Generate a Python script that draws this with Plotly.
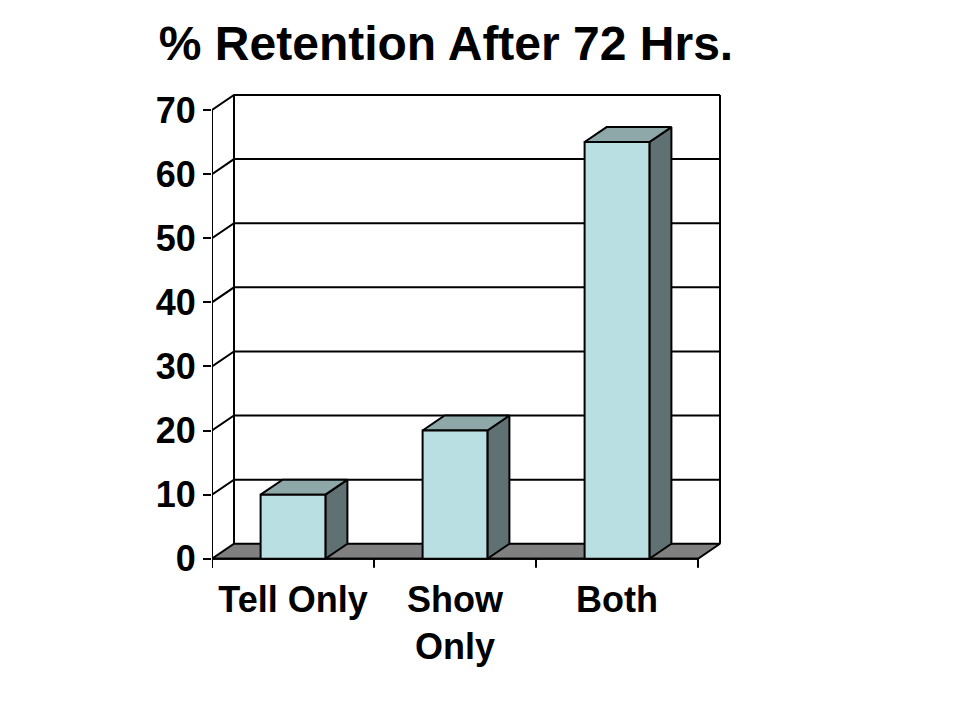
import plotly.graph_objects as go

# ---- data ----
categories = ["Tell Only", "Show<br>Only", "Both"]
values = [10, 20, 65]
y_ticks = [0, 10, 20, 30, 40, 50, 60, 70]
title_text = "% Retention After 72 Hrs."

# ---- style / geometry ----
FONT = "Liberation Sans, Arial, sans-serif"
PAGE_OFF = 8  # default body margin of the html page
PX_PER_CAT = 162.0
PX_PER_VAL = 449.0 / 70.0
DEPTH_X = 22.0 / PX_PER_CAT
DEPTH_Y = 15.0 / PX_PER_VAL
BAR_W = 0.40
TICK_DOWN = 9.0 / PX_PER_VAL
FRONT = "#BADFE2"
TOP = "#8EA8A9"
SIDE = "#5F7172"
FLOOR = "#808080"
LW = 2

W, H = 960, 720
M_L = 212 - PAGE_OFF
M_R = 230 + PAGE_OFF
M_T = 85 - PAGE_OFF
ZERO_PX = 559 - PAGE_OFF
Y_MIN = -1.6
y_max = (ZERO_PX - M_T) / PX_PER_VAL
plot_h = (y_max - Y_MIN) * PX_PER_VAL
M_B = H - M_T - plot_h
x_max = (W - M_L - M_R) / PX_PER_CAT

ncat = len(categories)
top_val = y_ticks[-1]

fig = go.Figure()


def poly(xs, ys, fill=None, width=LW):
    xs = list(xs) + [xs[0]]
    ys = list(ys) + [ys[0]]
    fig.add_trace(go.Scatter(
        x=xs, y=ys, mode="lines",
        fill="toself" if fill else None,
        fillcolor=fill,
        line=dict(color="black", width=width),
        hoverinfo="skip", showlegend=False))


def lines(xs, ys, width=LW):
    fig.add_trace(go.Scatter(
        x=xs, y=ys, mode="lines",
        line=dict(color="black", width=width),
        hoverinfo="skip", showlegend=False))


# floor
poly([0, ncat, ncat + DEPTH_X, DEPTH_X],
     [0, 0, DEPTH_Y, DEPTH_Y], fill=FLOOR)

# side wall + back wall gridlines
gx, gy = [], []
for v in y_ticks[1:]:
    gx += [0, DEPTH_X, ncat + DEPTH_X, None]
    gy += [v, v + DEPTH_Y, v + DEPTH_Y, None]
# back wall verticals
gx += [DEPTH_X, DEPTH_X, None, ncat + DEPTH_X, ncat + DEPTH_X, None]
gy += [DEPTH_Y, top_val + DEPTH_Y, None, DEPTH_Y, top_val + DEPTH_Y, None]
lines(gx, gy)

# front value axis line and category tick marks
ax, ay = [0, 0, None], [-TICK_DOWN, top_val, None]
for k in range(ncat + 1):
    ax += [k, k, None]
    ay += [0, -TICK_DOWN, None]
ax += [0, ncat, None]
ay += [0, 0, None]
lines(ax, ay)

# bars
for i, v in enumerate(values):
    x0 = i + 0.5 - BAR_W / 2
    x1 = i + 0.5 + BAR_W / 2
    # right side
    poly([x1, x1 + DEPTH_X, x1 + DEPTH_X, x1],
         [0, DEPTH_Y, v + DEPTH_Y, v], fill=SIDE)
    # top
    poly([x0, x1, x1 + DEPTH_X, x0 + DEPTH_X],
         [v, v, v + DEPTH_Y, v + DEPTH_Y], fill=TOP)
    # front
    poly([x0, x1, x1, x0], [0, 0, v, v], fill=FRONT)

fig.update_layout(
    width=W, height=H,
    margin=dict(l=M_L, r=M_R, t=M_T, b=M_B, pad=0, autoexpand=False),
    paper_bgcolor="white", plot_bgcolor="white",
    title=dict(text=title_text, x=(446 - PAGE_OFF) / W, xanchor="center",
               xref="container", y=1 - (43 - PAGE_OFF) / H, yanchor="middle",
               yref="container",
               font=dict(family=FONT, size=48, color="black", weight="bold")),
    xaxis=dict(range=[0, x_max], tickvals=[i + 0.5 for i in range(ncat)],
               ticktext=categories, ticks="", showline=False, showgrid=False,
               zeroline=False, ticklabelstandoff=6, automargin=False,
               tickfont=dict(family=FONT, size=36, color="black", weight="bold")),
    yaxis=dict(range=[Y_MIN, y_max], tickvals=y_ticks, ticks="outside",
               ticklen=8, tickwidth=2, tickcolor="black", automargin=False,
               showline=False, showgrid=False, zeroline=False,
               tickfont=dict(family=FONT, size=36, color="black", weight="bold")),
)

fig.write_html("out.html")
